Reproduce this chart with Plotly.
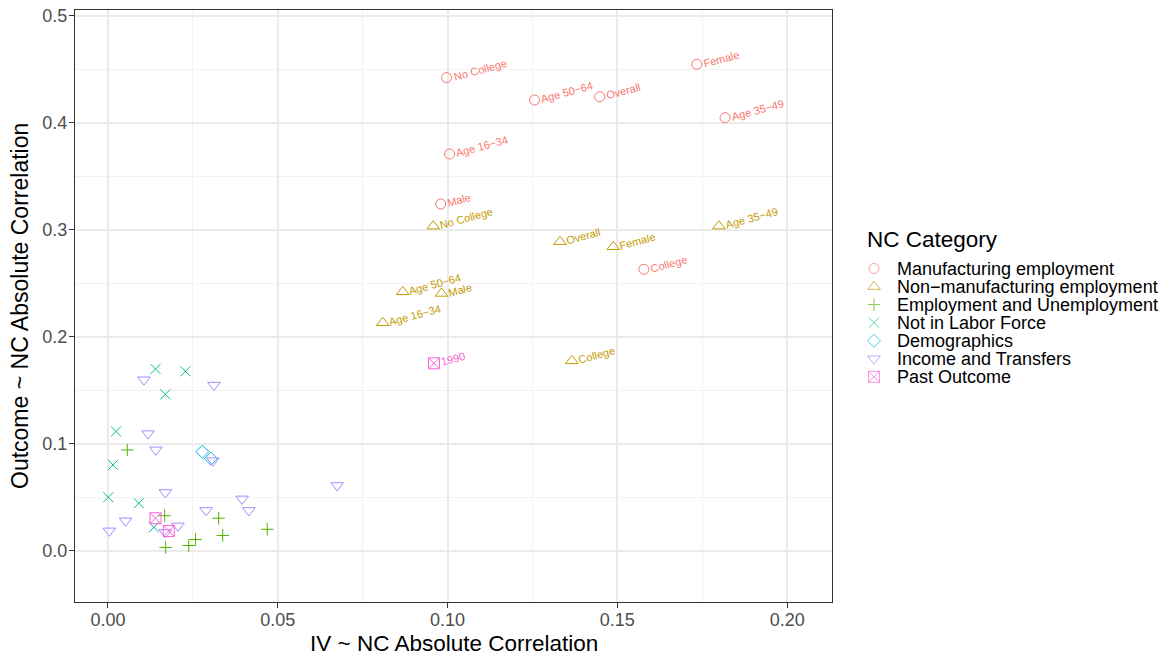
import math
import plotly.graph_objects as go

# ---------------- data ----------------
categories = ["Manufacturing employment", "Non\u2212manufacturing employment",
              "Employment and Unemployment", "Not in Labor Force", "Demographics",
              "Income and Transfers", "Past Outcome"]

manu_labels = ["No College", "Age 50\u221264", "Overall", "Female", "Age 35\u221249",
               "Age 16\u221234", "Male", "College"]
manu_x = [0.0997, 0.1256, 0.1448, 0.1734, 0.1817, 0.1006, 0.0980, 0.1578]
manu_y = [0.4424, 0.4215, 0.4246, 0.4548, 0.4050, 0.3710, 0.3243, 0.2633]

nonmanu_labels = ["No College", "Overall", "Female", "Age 35\u221249", "Age 50\u221264",
                  "Male", "Age 16\u221234", "College"]
nonmanu_x = [0.0958, 0.1331, 0.1488, 0.1799, 0.0868, 0.0982, 0.0809, 0.1366]
nonmanu_y = [0.3036, 0.2890, 0.2843, 0.3036, 0.2422, 0.2407, 0.2133, 0.1777]

emp_x = [0.0057, 0.0167, 0.0326, 0.0469, 0.0338, 0.0258, 0.0238, 0.0170]
emp_y = [0.0944, 0.0330, 0.0306, 0.0203, 0.0145, 0.0107, 0.0051, 0.0033]

nilf_x = [0.0140, 0.0228, 0.0169, 0.0024, 0.0015, 0.0001, 0.0091, 0.0135]
nilf_y = [0.1701, 0.1679, 0.1464, 0.1117, 0.0804, 0.0502, 0.0446, 0.0221]

demo_x = [0.0278, 0.0303]
demo_y = [0.0928, 0.0863]

inc_x = [0.0106, 0.0312, 0.0118, 0.0141, 0.0309, 0.0675, 0.0169, 0.0395, 0.0415,
         0.0289, 0.0052, 0.0004, 0.0206, 0.0169]
inc_y = [0.1600, 0.1550, 0.1097, 0.0945, 0.0844, 0.0612, 0.0547, 0.0487, 0.0379,
         0.0379, 0.0282, 0.0188, 0.0235, 0.0173]

past_labels = ["1990", "", ""]
past_x = [0.0960, 0.0140, 0.0179]
past_y = [0.1754, 0.0306, 0.0187]

x_ticks = [0.00, 0.05, 0.10, 0.15, 0.20]
y_ticks = [0.0, 0.1, 0.2, 0.3, 0.4, 0.5]

x_title = "IV ~ NC Absolute Correlation"
y_title = "Outcome ~ NC Absolute Correlation"
legend_title = "NC Category"

# ---------------- style ----------------
colors = ["#F8766D", "#C49A00", "#53B400", "#00C094", "#00B6EB", "#A58AFF", "#FB61D7"]
symbols = ["circle-open", "triangle-up-open", "cross-thin", "x-thin", "diamond-open",
           "triangle-down-open", "square-x-open"]
sizes = [10, 11, 9, 10, 10, 11, 11]
FONT = "Liberation Sans, Arial, sans-serif"

W, H = 1169, 656
ML, MR, MT, MB = 75, 5, 10, 54
PANEL_R = 832
paper_w = W - ML - MR
paper_h = H - MT - MB

series = [
    (manu_x, manu_y), (nonmanu_x, nonmanu_y), (emp_x, emp_y), (nilf_x, nilf_y),
    (demo_x, demo_y), (inc_x, inc_y), (past_x, past_y),
]

fig = go.Figure()
for i, (xs, ys) in enumerate(series):
    fig.add_trace(go.Scatter(
        x=xs, y=ys, mode="markers", name=categories[i], showlegend=False,
        marker=dict(symbol=symbols[i], size=sizes[i], color=colors[i],
                    line=dict(color=colors[i], width=1)),
        cliponaxis=False,
    ))

# ---- text labels (rotated) ----
ARIAL = {' ': 278, '\u2212': 584, 'A': 667, 'C': 722, 'F': 611, 'M': 833, 'N': 722,
         'O': 778, 'a': 556, 'c': 500, 'e': 556, 'g': 556, 'l': 222, 'm': 833,
         'o': 556, 'r': 333, 'v': 500, 'i': 222, 't': 278, 's': 500, 'n': 556}


def text_w(s, size):
    return sum(ARIAL.get(ch, 556) for ch in s) * size / 1000.0


ANG = 15
LBL_SIZE = 11
GAP = 6
th = math.radians(ANG)
annotations = []


def add_labels(xs, ys, labels, color):
    for x, y, t in zip(xs, ys, labels):
        if not t:
            continue
        d = GAP + text_w(t, LBL_SIZE) / 2 + 1
        annotations.append(dict(
            x=x, y=y, xref="x", yref="y", text=t, showarrow=False,
            textangle=-ANG, xanchor="center", yanchor="middle",
            xshift=d * math.cos(th), yshift=d * math.sin(th) - 1,
            font=dict(size=LBL_SIZE, color=color, family=FONT),
        ))


add_labels(manu_x, manu_y, manu_labels, colors[0])
add_labels(nonmanu_x, nonmanu_y, nonmanu_labels, colors[1])
add_labels(past_x, past_y, past_labels, colors[6])


def px_to_paper(px, py):
    return (px - ML) / paper_w, (H - MB - py) / paper_h


# ---- axis titles ----
ax, ay = px_to_paper((ML + PANEL_R) / 2, 643)
annotations.append(dict(x=ax, y=ay, xref="paper", yref="paper", text=x_title,
                        showarrow=False, xanchor="center", yanchor="middle",
                        font=dict(size=22.5, color="black", family=FONT)))
ax, ay = px_to_paper(20, (MT + H - MB) / 2)
annotations.append(dict(x=ax, y=ay, xref="paper", yref="paper", text=y_title,
                        showarrow=False, xanchor="center", yanchor="middle", textangle=-90,
                        font=dict(size=23, color="black", family=FONT)))

# ---- manual legend ----
LEG_TITLE_X, LEG_TITLE_Y = 865, 240
LEG_KEY_X, LEG_TEXT_X = 874, 895
LEG_Y0, LEG_DY = 268.5, 18.05

tx, ty = px_to_paper(LEG_TITLE_X, LEG_TITLE_Y)
annotations.append(dict(x=tx, y=ty, xref="paper", yref="paper", text=legend_title,
                        showarrow=False, xanchor="left", yanchor="middle",
                        font=dict(size=22.5, color="black", family=FONT)))
key_x, key_y = [], []
for i, c in enumerate(categories):
    py = LEG_Y0 + i * LEG_DY
    lx, ly = px_to_paper(LEG_TEXT_X, py)
    annotations.append(dict(x=lx, y=ly, xref="paper", yref="paper", text=c,
                            showarrow=False, xanchor="left", yanchor="middle",
                            font=dict(size=18, color="black", family=FONT)))
    key_x.append(LEG_KEY_X)
    key_y.append(py)

fig.add_trace(go.Scatter(
    x=key_x, y=key_y, xaxis="x2", yaxis="y2", mode="markers", showlegend=False,
    marker=dict(symbol=symbols, size=sizes, color=colors,
                line=dict(color=colors, width=1)),
    hoverinfo="skip", cliponaxis=False,
))

axis_common = dict(
    showline=True, mirror=True, linecolor="#333333", linewidth=1,
    ticks="outside", ticklen=5, tickwidth=1, tickcolor="#333333",
    tickfont=dict(size=18, color="#4D4D4D", family=FONT),
    showgrid=True, gridcolor="#EBEBEB", gridwidth=1.6,
    zeroline=False, automargin=False,
)

fig.update_layout(
    template="none",
    width=W, height=H,
    margin=dict(l=ML, r=MR, t=MT, b=MB, pad=0, autoexpand=False),
    paper_bgcolor="white", plot_bgcolor="rgba(0,0,0,0)",
    font=dict(family=FONT, color="black"),
    showlegend=False,
    annotations=annotations,
    xaxis=dict(
        domain=[0, (PANEL_R - ML) / paper_w], range=[-0.0097, 0.2132],
        tickvals=x_ticks, ticktext=[f"{v:.2f}" for v in x_ticks],
        ticklabelstandoff=-4,
        minor=dict(dtick=0.025, tick0=0, showgrid=True, gridcolor="#F2F2F2",
                   gridwidth=1, ticks=""),
        **axis_common,
    ),
    yaxis=dict(
        domain=[0, 1], range=[-0.0477, 0.5056],
        tickvals=y_ticks, ticktext=[f"{v:.1f}" for v in y_ticks],
        ticklabelstandoff=-2,
        minor=dict(dtick=0.05, tick0=0, showgrid=True, gridcolor="#F2F2F2",
                   gridwidth=1, ticks=""),
        **axis_common,
    ),
    xaxis2=dict(domain=[0, 1], range=[ML, W - MR], visible=False, fixedrange=True,
                anchor="y2", automargin=False),
    yaxis2=dict(domain=[0, 1], range=[H - MB, MT], visible=False, fixedrange=True,
                anchor="x2", automargin=False),
)

fig.write_html("out.html", config={"displayModeBar": False},
               post_script="document.body.style.margin='0px';document.body.style.padding='0px';")
